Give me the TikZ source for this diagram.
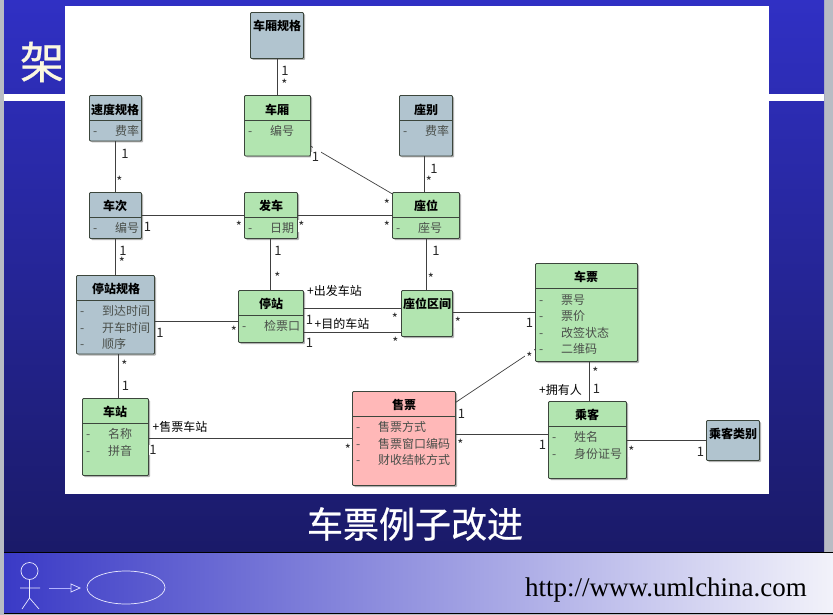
\documentclass[tikz,border=0pt]{standalone}
\usepackage{fontspec}
\setmainfont{Noto Sans CJK SC}
\newfontfamily\urlfont{Liberation Serif}
\newfontfamily\heavyfont[FakeBold=0.6]{Noto Sans CJK SC}
\usetikzlibrary{calc}
\definecolor{bgtop}{HTML}{3030C4}
\definecolor{bgbot}{HTML}{1A1A68}
\definecolor{foot}{HTML}{3A3AC6}
\definecolor{footr}{HTML}{F2F2FA}
\definecolor{sidegray}{HTML}{B8BCC4}
\definecolor{cream}{HTML}{FBF8E0}
\definecolor{grn}{HTML}{B2E5B0}
\definecolor{gry}{HTML}{B1C4CF}
\definecolor{pnk}{HTML}{FFB8B8}
\definecolor{edge}{HTML}{3C463C}
\definecolor{attrc}{HTML}{4A4F4A}
\tikzset{
  x=1pt,y=-1pt,
  box/.style={draw=edge,line width=.8pt,rounded corners=1pt,inner sep=0pt,outer sep=0pt},
  boxshadow/.style={fill=black!30,rounded corners=1pt,draw=none},
  title/.style={font=\fontsize{12}{12}\selectfont\bfseries,text=black,inner sep=0pt},
  attr/.style={font=\fontsize{12}{12}\selectfont,text=attrc,inner sep=0pt,anchor=west},
  mult/.style={font=\fontsize{13}{13}\selectfont,text=black!85,fill=white,inner sep=.6pt},
  role/.style={font=\fontsize{12}{12}\selectfont,text=black,inner sep=0pt},
  conn/.style={draw=black!75,line width=.7pt},
  sketch/.style={draw=white!92!blue,line width=.7pt},
}
% id, x1, y1, x2, y2, fill, title, title x, title y
\newcommand{\umlbox}[9]{%
  \pgfmathsetmacro{\bw}{#4-#2}\pgfmathsetmacro{\bh}{#5-#3}%
  \pgfmathsetmacro{\cx}{(#2+#4)/2}\pgfmathsetmacro{\cy}{(#3+#5)/2}%
  \fill[boxshadow] (#2+1.5,#3+1.5) rectangle (#4+1.5,#5+1.5);
  \node[box,fill=#6,minimum width=\bw pt,minimum height=\bh pt] (#1) at (\cx,\cy) {};
  \node[title] (#1t) at (#8,#9) {#7};
}
\newcommand{\divline}[2]{\draw[draw=edge,line width=.8pt] (#1.west |- 0,#2) -- (#1.east |- 0,#2);}
% id, dash x, text x, y, text
\newcommand{\attrrow}[5]{%
  \node[attr] (#1d) at (#2,#4) {\vphantom{费}-};
  \node[attr] (#1) at (#3,#4) {#5};
}
\begin{document}
\begin{tikzpicture}
\useasboundingbox (0,0) rectangle (833,615);
% slide background
\fill[sidegray] (0,0) rectangle (833,615);
\shade[top color=bgtop,bottom color=bgbot,shading angle=0] (4,0) rectangle (824,553);
\node[inner sep=0pt,text=cream,font=\heavyfont\fontsize{44}{44}\selectfont] (hd) at (42,62) {架};
\fill[white] (4,94) rectangle (824,101);
\fill[white] (65,6) rectangle (769,494);
\node[inner sep=0pt,text=white,font=\heavyfont\fontsize{36}{36}\selectfont] (cap) at (415,524) {车票例子改进};
% footer
\shade[left color=foot,right color=footr,shading angle=90] (4,552.5) rectangle (833,613);
\draw[black,line width=.7pt] (4,552.5) -- (833,552.5) (4,613) -- (833,613);
\draw[sketch] (29.5,571) ellipse [x radius=8.5,y radius=8.5];
\draw[sketch] (29.5,579.5) -- (29.5,598) (20,588) -- (40,588) (22,609) -- (29.5,598) -- (39,609);
\draw[draw=white!70!blue,line width=1pt] (49,588) -- (71,588);
\draw[draw=white!85!blue,line width=.8pt] (71,584) -- (80,588) -- (71,592) -- cycle;
\draw[sketch] (126,587.5) ellipse [x radius=39,y radius=16.5];
\node[inner sep=0pt,anchor=base west,text=black,font=\urlfont\fontsize{27}{27}\selectfont] (url) at (525,596) {http://www.umlchina.com};
% boxes
\umlbox{cxgg}{250.5}{12.5}{303.5}{58.5}{gry}{车厢规格}{277}{26}
\umlbox{cx}{244.5}{95.5}{310.5}{156}{grn}{车厢}{277}{110}\divline{cx}{120}
\attrrow{cxa}{248}{270}{131}{编号}
\umlbox{sdgg}{89.5}{95.5}{141.5}{141}{gry}{速度规格}{115}{110}\divline{sdgg}{120}
\attrrow{sda}{93}{115}{131}{费率}
\umlbox{zb}{399.5}{95.5}{452.5}{156}{gry}{座别}{426}{110}\divline{zb}{120}
\attrrow{zba}{403}{425}{131}{费率}
\umlbox{cc}{89.5}{192.5}{141.5}{238.5}{gry}{车次}{115}{206}\divline{cc}{217}
\attrrow{cca}{93}{115}{228}{编号}
\umlbox{fc}{244.5}{192.5}{297.5}{238.5}{grn}{发车}{271}{206}\divline{fc}{217}
\attrrow{fca}{248}{270}{228}{日期}
\umlbox{zw}{392.5}{192.5}{459.5}{238.5}{grn}{座位}{426}{206}\divline{zw}{217}
\attrrow{zwa}{396}{418}{228}{座号}
\umlbox{tzgg}{76.5}{275.5}{154.5}{354}{gry}{停站规格}{116}{288.5}\divline{tzgg}{300.5}
\attrrow{tza}{80}{102}{311}{到达时间}
\attrrow{tzb}{80}{102}{328}{开车时间}
\attrrow{tzc}{80}{102}{344}{顺序}
\umlbox{tz}{238.5}{290.5}{303.5}{342.5}{grn}{停站}{271}{303.5}\divline{tz}{315.5}
\attrrow{tzd}{242}{264}{326}{检票口}
\umlbox{zq}{401.5}{290.5}{452.5}{336.5}{grn}{座位区间}{427}{303.5}
\umlbox{cp}{535.5}{263.5}{637.5}{361.5}{grn}{车票}{586}{277}\divline{cp}{288.5}
\attrrow{cpa}{539}{561}{300}{票号}
\attrrow{cpb}{539}{561}{316}{票价}
\attrrow{cpc}{539}{561}{333}{改签状态}
\attrrow{cpd}{539}{561}{349}{二维码}
\umlbox{cz}{82.5}{398.5}{148.5}{475.5}{grn}{车站}{115}{412}\divline{cz}{423.5}
\attrrow{cza}{86}{108}{434}{名称}
\attrrow{czb}{86}{108}{451}{拼音}
\umlbox{sp}{352.5}{391.5}{455.5}{485.5}{pnk}{售票}{404}{404.5}\divline{sp}{416.5}
\attrrow{spa}{356}{378}{427}{售票方式}
\attrrow{spb}{356}{378}{444}{售票窗口编码}
\attrrow{spc}{356}{378}{460}{财收结帐方式}
\umlbox{ck}{548.5}{401.5}{626.5}{478.5}{grn}{乘客}{587}{415}\divline{ck}{426.5}
\attrrow{cka}{552}{574}{437}{姓名}
\attrrow{ckb}{552}{574}{454}{身份证号}
\umlbox{cklb}{706.5}{420.5}{759.5}{460.5}{gry}{乘客类别}{733}{434}
% connectors
\draw[conn] (cxgg.south -| 277,0) -- (cx.north -| 277,0);
\draw[conn] (cx.east |- 0,146) -- (zw.west |- 0,194);
\draw[conn] (sdgg.south -| 115.5,0) -- (cc.north -| 115.5,0);
\draw[conn] (zb.south -| 424.5,0) -- (zw.north -| 424.5,0);
\draw[conn] (cc.east |- 0,215) -- (fc.west |- 0,215);
\draw[conn] (fc.east |- 0,215) -- (zw.west |- 0,215);
\draw[conn] (cc.south -| 115.5,0) -- (tzgg.north -| 115.5,0);
\draw[conn] (fc.south -| 270.5,0) -- (tz.north -| 270.5,0);
\draw[conn] (zw.south -| 426.5,0) -- (zq.north -| 426.5,0);
\draw[conn] (tzgg.east |- 0,321) -- (tz.west |- 0,321);
\draw[conn] (tzgg.south -| 118.5,0) -- (cz.north -| 118.5,0);
\draw[conn] (tz.east |- 0,308.5) -- (zq.west |- 0,308.5);
\draw[conn] (tz.east |- 0,332.5) -- (zq.west |- 0,332.5);
\draw[conn] (zq.east |- 0,312.5) -- (cp.west |- 0,312.5);
\draw[conn] (sp.east |- 0,402.5) -- (cp.west |- 0,349);
\draw[conn] (cz.east |- 0,438.5) -- (sp.west |- 0,438.5);
\draw[conn] (sp.east |- 0,434.5) -- (ck.west |- 0,434.5);
\draw[conn] (cp.south -| 589.5,0) -- (ck.north -| 589.5,0);
\draw[conn] (ck.east |- 0,440.5) -- (cklb.west |- 0,440.5);
% label backgrounds interrupting the two slanted connectors
\fill[white] (313,147) rectangle (321,162);
\fill[white] (525,346) rectangle (533.5,360);
% multiplicities
\foreach \nm/\xx/\yy/\tt in {
 m1/285/71/1,m2/284.5/84/*,m3/315.5/157/1,m4/125/154/1,m5/119.5/181/*,
 m6/434/169/1,m7/429/181/*,m8/147.5/227/1,m9/239/226/*,m10/301.5/226/*,
 m11/387/204/*,m12/387/226/*,m13/123/251/1,m14/122/262/*,m15/278/251/1,m16/277.5/277/*,
 m17/436/251/1,m18/431/278/*,m19/160/333/1,m20/234/331/*,m21/124.5/365/*,m22/125.5/386/1,
 m23/309.5/320/1,m24/395/318/*,m25/309.5/343/1,m26/395.5/342/*,m27/458/322/*,m28/529.5/323/1,
 m29/529.5/357/*,m30/461.5/414/1,m31/153/450/1,m32/348/449/*,m33/460.5/444/*,m34/542.5/445/1,
 m35/595.5/372/*,m36/596.5/389/1,m37/631.5/451/*,m38/700.5/452/1}
{ \node[mult] (\nm) at (\xx,\yy) {\tt}; }
% roles
\node[role] (r1) at (334.5,291) {+出发车站};
\node[role] (r2) at (342,324) {+目的车站};
\node[role] (r3) at (180,427) {+售票车站};
\node[role] (r4) at (560.5,390) {+拥有人};
\end{tikzpicture}
\end{document}
